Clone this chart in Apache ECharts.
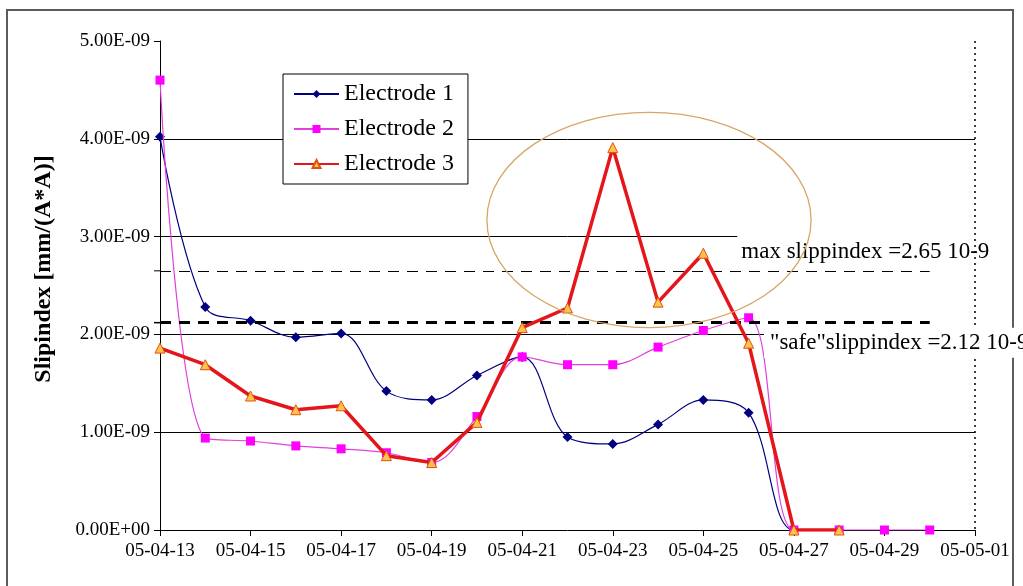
<!DOCTYPE html>
<html>
<head>
<meta charset="utf-8">
<script src="https://cdn.jsdelivr.net/npm/echarts@6/dist/echarts.min.js"></script>
<style>
  html, body { margin: 0; padding: 0; background: #fff; }
  #chart { width: 1023px; height: 586px; }
</style>
</head>
<body>
<div id="chart"></div>
<script>
// Measurement dates (one per day) used as the category axis
const categories = [
  '05-04-13', '05-04-14', '05-04-15', '05-04-16', '05-04-17', '05-04-18',
  '05-04-19', '05-04-20', '05-04-21', '05-04-22', '05-04-23', '05-04-24',
  '05-04-25', '05-04-26', '05-04-27', '05-04-28', '05-04-29', '05-04-30',
  '05-05-01'
];

// Slip index per electrode, in units of 1E-09 mm/(A*A)
const electrode1 = [4.02, 2.28, 2.14, 1.97, 2.01, 1.42, 1.33, 1.58, 1.77, 0.95, 0.88, 1.08, 1.33, 1.20, 0.0, 0.0];
const electrode2 = [4.60, 0.94, 0.91, 0.86, 0.83, 0.79, 0.69, 1.16, 1.77, 1.69, 1.69, 1.87, 2.04, 2.17, 0.0, 0.0, 0.0, 0.0];
const electrode3 = [1.86, 1.69, 1.37, 1.23, 1.27, 0.76, 0.69, 1.10, 2.07, 2.27, 3.91, 2.33, 2.83, 1.91, 0.0, 0.0];

// Reference levels, in units of 1E-09
const maxSlip = 2.65;
const safeSlip = 2.12;

// Y tick labels in scientific notation
const yTickLabels = ['0.00E+00', '1.00E-09', '2.00E-09', '3.00E-09', '4.00E-09', '5.00E-09'];

const serif = '"Liberation Serif", "Times New Roman", serif';

const chart = echarts.init(document.getElementById('chart'), null, { renderer: 'canvas' });

chart.setOption({
  animation: false,
  backgroundColor: '#ffffff',
  grid: { left: 160, right: 48, top: 41, bottom: 56, containLabel: false },
  legend: {
    orient: 'vertical',
    left: 283,
    top: 74,
    itemWidth: 45,
    itemHeight: 10,
    itemGap: 11,
    padding: [8, 14, 8, 10],
    backgroundColor: '#ffffff',
    borderColor: '#000000',
    borderWidth: 1,
    borderRadius: 0,
    textStyle: { fontFamily: serif, fontSize: 24, color: '#000' },
    data: ['Electrode 1', 'Electrode 2', 'Electrode 3']
  },
  xAxis: {
    type: 'category',
    data: categories,
    boundaryGap: false,
    axisLine: { lineStyle: { color: '#000', width: 1 } },
    axisTick: { show: true, inside: false, length: 6, interval: 1, lineStyle: { color: '#000' } },
    axisLabel: { interval: 1, margin: 12, color: '#000', fontFamily: serif, fontSize: 19 },
    splitLine: { show: false }
  },
  yAxis: {
    type: 'value',
    min: 0,
    max: 5,
    interval: 1,
    axisLine: { show: true, lineStyle: { color: '#000', width: 1 } },
    axisTick: { show: true, inside: false, length: 6, lineStyle: { color: '#000' } },
    axisLabel: {
      margin: 10,
      color: '#000',
      fontFamily: serif,
      fontSize: 19,
      formatter: function (v) { return yTickLabels[Math.round(v)]; }
    },
    splitLine: {
      show: true,
      lineStyle: {
        color: ['rgba(0,0,0,0)', '#000', '#000', '#000', '#000', 'rgba(0,0,0,0)'],
        width: 1
      }
    }
  },
  series: [
    {
      name: 'Electrode 1',
      type: 'line',
      data: electrode1,
      smooth: 0.35,
      symbol: 'diamond',
      symbolSize: 10,
      itemStyle: { color: '#000080' },
      lineStyle: { color: '#000080', width: 1.2 },
      z: 3
    },
    {
      name: 'Electrode 2',
      type: 'line',
      data: electrode2,
      smooth: 0.35,
      symbol: 'rect',
      symbolSize: 9,
      itemStyle: { color: '#ff00ff' },
      lineStyle: { color: '#e040e0', width: 1.2 },
      z: 4
    },
    {
      name: 'Electrode 3',
      type: 'line',
      data: electrode3,
      smooth: false,
      symbol: 'triangle',
      symbolSize: 10,
      itemStyle: { color: '#ffc24a', borderColor: '#e0520f', borderWidth: 1 },
      lineStyle: { color: '#e4161b', width: 3.5 },
      z: 5,
      markLine: {
        silent: true,
        symbol: 'none',
        label: { show: false },
        data: [
          [
            { coord: [categories[0], maxSlip], lineStyle: { color: '#000', width: 1, type: [11, 8] } },
            { coord: [categories[17], maxSlip] }
          ],
          [
            { coord: [categories[0], safeSlip], lineStyle: { color: '#000', width: 3, type: [11, 8] } },
            { coord: [categories[17], safeSlip] }
          ]
        ]
      }
    }
  ]
});

// Pixel position for a (possibly fractional) category index and a value
function px(ix, y) {
  const i0 = Math.floor(ix);
  const i1 = Math.min(i0 + 1, categories.length - 1);
  const a = chart.convertToPixel({ gridIndex: 0 }, [i0, y]);
  const b = chart.convertToPixel({ gridIndex: 0 }, [i1, y]);
  const t = ix - i0;
  return [a[0] + (b[0] - a[0]) * t, a[1]];
}

const topRight = px(categories.length - 1, 5);
const botRight = px(categories.length - 1, 0);
const maxPt = px(12.75, maxSlip);
const safePt = px(13.34, safeSlip);
const maxTick = px(0, maxSlip);
const safeTick = px(0, safeSlip);

// Circled region around the Electrode 3 peak
const ellC = px(10.8, 3.17);
const ellX = px(10.8 + 3.58, 3.17);
const ellY = px(10.8, 3.17 + 1.1);

chart.setOption({
  graphic: [
    {
      type: 'rect',
      silent: true,
      z: 1,
      shape: { x: 7, y: 10, width: 1006, height: 600 },
      style: { fill: 'none', stroke: '#5c5c5c', lineWidth: 2 }
    },
    {
      type: 'text',
      silent: true,
      z: 10,
      x: 44,
      y: 269,
      rotation: Math.PI / 2,
      style: {
        text: 'Slipindex [mm/(A*A)]',
        font: 'bold 24px ' + serif,
        fill: '#000',
        align: 'center',
        verticalAlign: 'middle'
      }
    },
    // level markers on the value axis
    {
      type: 'line',
      silent: true,
      z: 10,
      shape: { x1: maxTick[0] - 6, y1: maxTick[1], x2: maxTick[0], y2: maxTick[1] },
      style: { stroke: '#000', lineWidth: 1 }
    },
    {
      type: 'line',
      silent: true,
      z: 10,
      shape: { x1: safeTick[0] - 6, y1: safeTick[1], x2: safeTick[0], y2: safeTick[1] },
      style: { stroke: '#000', lineWidth: 1.5 }
    },
    {
      type: 'text',
      silent: true,
      z: 20,
      x: maxPt[0],
      y: maxPt[1] - 19,
      style: {
        text: 'max slippindex =2.65 10-9',
        font: '23px ' + serif,
        fill: '#000',
        align: 'left',
        verticalAlign: 'middle',
        backgroundColor: '#fff',
        padding: [8, 6, 5, 4]
      }
    },
    {
      type: 'line',
      silent: true,
      z: 21,
      shape: { x1: topRight[0], y1: topRight[1], x2: botRight[0], y2: botRight[1] },
      style: { stroke: '#000', lineWidth: 1.5, lineDash: [2, 4] }
    },
    {
      type: 'ellipse',
      silent: true,
      z: 22,
      shape: { cx: ellC[0], cy: ellC[1], rx: ellX[0] - ellC[0], ry: ellC[1] - ellY[1] },
      style: { fill: 'none', stroke: '#d6a767', lineWidth: 1.3 }
    },
    {
      type: 'text',
      silent: true,
      z: 30,
      x: safePt[0],
      y: safePt[1] + 20,
      style: {
        text: '"safe"slippindex =2.12 10-9',
        font: '23px ' + serif,
        fill: '#000',
        align: 'left',
        verticalAlign: 'middle',
        backgroundColor: '#fff',
        padding: [4, 10, 3, 6]
      }
    }
  ]
});
</script>
</body>
</html>
